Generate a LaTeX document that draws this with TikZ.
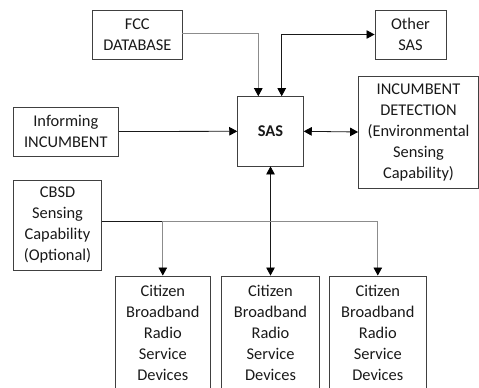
\documentclass[tikz,border=0pt]{standalone}
\usepackage{fontspec}
\setmainfont{Carlito}
\usetikzlibrary{arrows.meta,calc}
\begin{document}
\begin{tikzpicture}[x=1pt,y=-1pt,
  tip/.tip={Triangle[length=8pt,width=8.5pt,color=black]},
  box/.style={draw=black!75,line width=0.9pt,align=center,inner sep=1pt,
    font=\fontsize{16.4}{21}\selectfont,text=black!90},
  conn/.style={line width=0.8pt,-tip},
  dconn/.style={line width=0.8pt,tip-tip},
  grayline/.style={draw=black!45},
  darkline/.style={draw=black!90}]
\useasboundingbox (0,0) rectangle (479,388);
\begin{scope}
\clip (0,0) rectangle (479,388);
\node[box,minimum width=89.3pt,minimum height=49.3pt] (fcc) at (137.3,34.7) {FCC\\DATABASE};
\node[box,minimum width=71pt,minimum height=49pt] (other) at (410.5,34.5) {Other\\SAS};
\node[box,minimum width=65.6pt,minimum height=69.3pt,font=\fontsize{16.4}{21}\selectfont\bfseries] (sas) at (270.5,131.3) {SAS};
\node[box,minimum width=120pt,minimum height=112pt] (det) at (418.5,132) {INCUMBENT\\DETECTION\\(Environmental\\Sensing\\Capability)};
\node[box,minimum width=105pt,minimum height=49pt] (inf) at (65.8,131.5) {Informing\\INCUMBENT};
\node[box,minimum width=88.3pt,minimum height=90.7pt] (cbsd) at (57.5,225.3) {CBSD\\Sensing\\Capability\\(Optional)};
\node[box,minimum width=95.7pt,minimum height=114pt] (cit1) at (162.8,333) {Citizen\\Broadband\\Radio\\Service\\Devices};
\node[box,minimum width=97.6pt,minimum height=114pt] (cit2) at (270.5,333) {Citizen\\Broadband\\Radio\\Service\\Devices};
\node[box,minimum width=97.7pt,minimum height=114pt] (cit3) at (377.8,333) {Citizen\\Broadband\\Radio\\Service\\Devices};
\end{scope}
\coordinate (fccin) at ($(sas.north)+(-12.2,0)$);
\coordinate (othin) at ($(sas.north)+(11.2,0)$);
\coordinate (cbout) at ($(cbsd.east)+(0,-4)$);
\coordinate (bus1) at (cbout -| cit1.north);
\coordinate (bus3) at (cbout -| cit3.north);
% FCC -> SAS
\draw[conn,grayline] ($(fcc.east)+(0,-1.4)$) -| (fccin);
% SAS <-> Other SAS
\draw[dconn,darkline] (othin) |- (other.west);
% Informing -> SAS
\draw[conn,darkline] (inf.east) -- (sas.west);
% SAS <-> Detection
\draw[dconn,darkline] (sas.east) -- (det.west);
% SAS <-> Citizen 2
\draw[dconn,darkline] (sas.south) -- (cit2.north);
% CBSD bus
\draw[line width=0.8pt,darkline] (cbout) -- (bus1);
\draw[line width=0.8pt,grayline] (bus1) -- (bus3);
\draw[conn,grayline] (bus1) -- (cit1.north);
\draw[conn,grayline] (bus3) -- (cit3.north);
\end{tikzpicture}
\end{document}
